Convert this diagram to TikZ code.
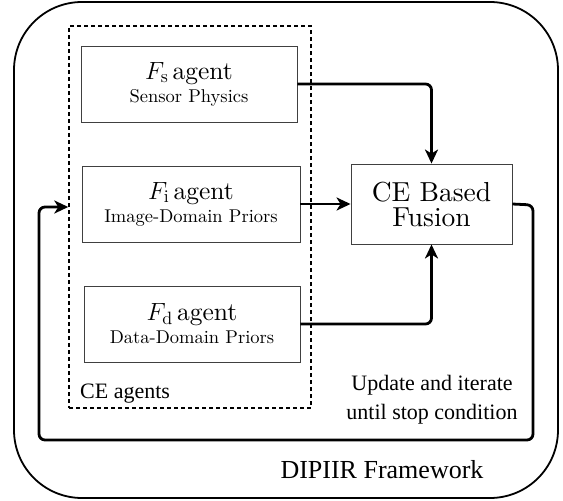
\documentclass[tikz,border=0pt]{standalone}
\usepackage{fontspec}
% one design size of Latin Modern at every size
\setmainfont{lmroman10-regular.otf}[
  BoldFont=lmroman10-bold.otf,
  ItalicFont=lmroman10-italic.otf,
  BoldItalicFont=lmroman10-bolditalic.otf]
\newfontfamily\timesfont{Liberation Serif}
\usetikzlibrary{arrows.meta}

\begin{document}
\begin{tikzpicture}[x=1pt,y=-1pt,
  agentbox/.style={draw=black!75, line width=0.9pt, minimum width=216pt,
    minimum height=76pt, inner sep=0pt, align=center,
    font=\fontsize{25.5}{23}\selectfont},
  fusionbox/.style={draw=black!75, line width=0.9pt, minimum width=161pt,
    minimum height=80pt, inner sep=0pt, align=center,
    font=\fontsize{27.5}{25}\selectfont},
  groupbox/.style={draw, dashed, dash pattern=on 4pt off 3pt, line width=1.4pt,
    minimum width=242pt, minimum height=382pt, inner sep=0pt},
  framebox/.style={draw, line width=1.8pt, rounded corners=68pt,
    minimum width=544pt, minimum height=496pt, inner sep=0pt},
  conn/.style={line width=2.8pt, rounded corners=6pt,
    -{Stealth[length=14pt,width=13pt,inset=4pt]}},
  note/.style={font=\timesfont\fontsize{22}{29}\selectfont, inner sep=0pt}
]
% page area
\path[use as bounding box, fill=white] (0,0) rectangle (563,501);

% outer framework frame and the dashed group of agents
\node[framebox] (framework) at (286,250) {};
\node[groupbox] (agents) at (190,217) {};

% agent boxes
\node[agentbox] (fs) at (189,84)
  {$F_{\mathrm{s}}$\,agent\\{\fontsize{18.5}{23}\selectfont Sensor Physics}};
\node[agentbox, minimum width=218pt] (fi) at (191,204)
  {$F_{\mathrm{i}}$\,agent\\{\fontsize{18.5}{23}\selectfont Image-Domain Priors}};
\node[agentbox] (fd) at (192,324)
  {$F_{\mathrm{d}}$\,agent\\{\fontsize{18.5}{23}\selectfont Data-Domain Priors}};

% fusion box
\node[fusionbox] (ce) at (431.5,204) {CE Based\\Fusion};

% labels
\node[note, anchor=base west] (grouplabel) at (80,398) {CE agents};
\node[note, align=center, anchor=base] (looplabel) at (432,419)
  {Update and iterate\\until stop condition};
\node[note, font=\timesfont\fontsize{26}{30}\selectfont, anchor=base] (framelabel)
  at (382,478) {DIPIIR Framework};

% connectors into the fusion box
\draw[conn] (fs.east) -| (ce.north);
\draw[conn] (fi.east) -- (ce.west);
\draw[conn] (fd.east) -| (ce.south);

% feedback loop back to the agents
\coordinate (loopin) at (agents.west |- 0,207);
\draw[conn] (ce.east) -- (533,205) -- (533,440) -- (39,440) -- (39,207) -- (loopin);
\end{tikzpicture}
\end{document}
